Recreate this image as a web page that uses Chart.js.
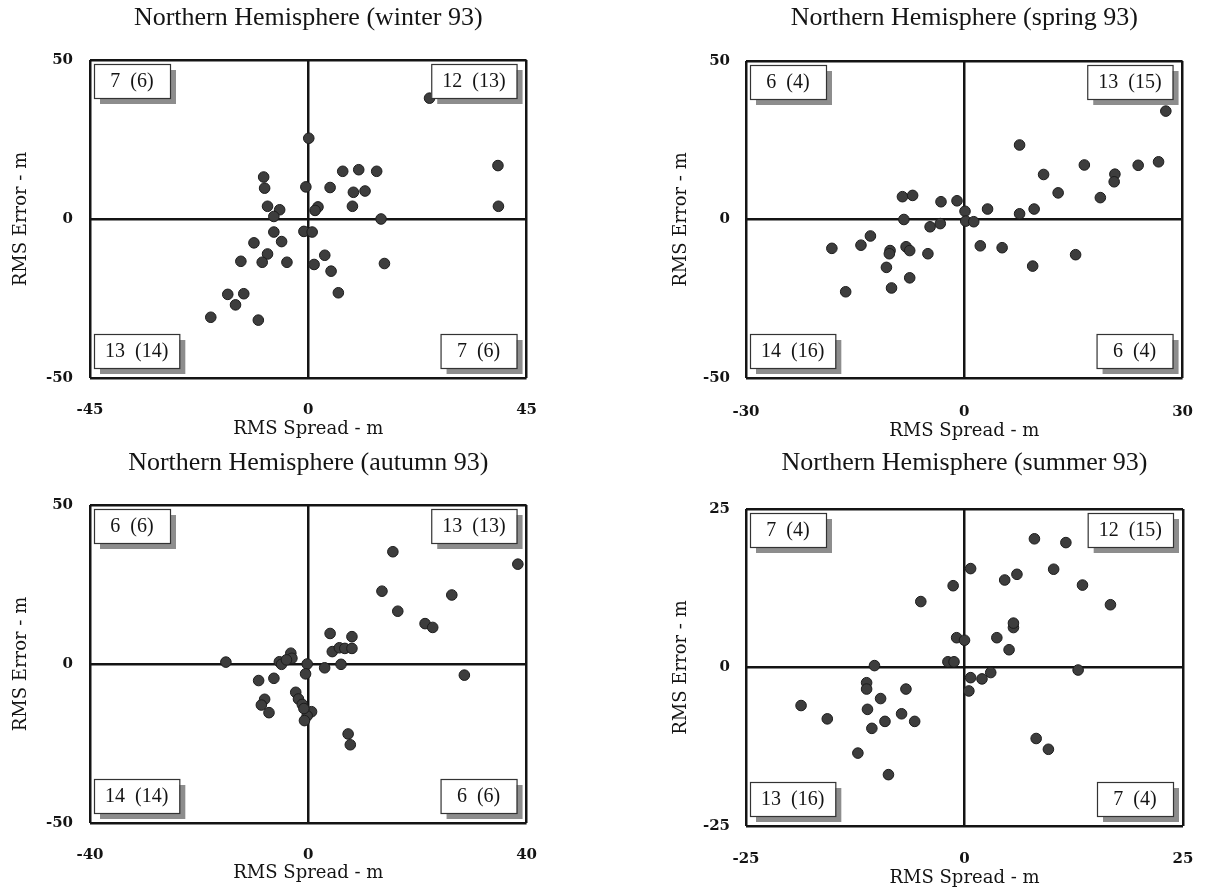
<!DOCTYPE html>
<html><head><meta charset="utf-8">
<script src="https://cdn.jsdelivr.net/npm/chart.js@4.4.0/dist/chart.umd.min.js"></script>
<style>
html,body{margin:0;padding:0;background:#fff;width:1218px;height:896px;overflow:hidden}
.p{position:absolute}
canvas{display:block}
</style></head><body>
<div class="p" style="left:0;top:0"><canvas id="c1" width="560" height="445"></canvas></div>
<div class="p" style="left:600px;top:0"><canvas id="c2" width="618" height="445"></canvas></div>
<div class="p" style="left:0;top:445px"><canvas id="c3" width="560" height="451"></canvas></div>
<div class="p" style="left:600px;top:445px"><canvas id="c4" width="618" height="451"></canvas></div>
<script>
// ---------- data ----------
const winterSpread = [25.0,0.1,39.1,39.2,-9.2,-9.0,-0.5,7.1,10.4,14.1,4.5,9.3,11.7,9.1,2.0,1.4,-8.4,-5.9,-7.1,15.0,-0.9,0.8,-7.1,-5.5,-11.2,-8.4,-9.5,-13.9,-4.4,3.4,1.2,4.7,15.7,6.2,-16.6,-13.3,-15.0,-20.1,-10.3];
const winterError  = [38.0,25.4,16.8,4.0,13.2,9.7,10.1,15.0,15.5,15.0,9.9,8.4,8.8,4.0,3.8,2.7,4.0,2.9,0.8,0.0,-3.9,-4.1,-4.1,-7.1,-7.5,-11.0,-13.6,-13.3,-13.6,-11.4,-14.3,-16.4,-14.0,-23.2,-23.7,-23.5,-27.0,-30.9,-31.8];
const winterXTicks = [-45,0,45];
const winterYTicks = [-50,0,50];
const winterCounts = ['7  (6)','12  (13)','13  (14)','7  (6)'];

const springSpread = [27.7,7.6,16.5,23.9,26.7,10.9,20.7,20.6,12.9,18.7,9.6,7.6,3.2,0.1,-1.0,-3.2,-8.5,-7.1,-8.3,0.2,1.3,-3.3,-4.7,2.2,5.2,9.4,15.3,-12.9,-14.2,-18.2,-10.2,-10.3,-8.0,-7.5,-5.0,-10.7,-7.5,-10.0,-16.3];
const springError  = [34.2,23.5,17.2,17.1,18.2,14.2,14.3,11.9,8.4,6.9,3.3,1.8,3.3,2.6,5.9,5.6,7.2,7.6,0.0,-0.5,-0.7,-1.3,-2.3,-8.3,-8.9,-14.7,-11.1,-5.2,-8.1,-9.1,-9.8,-10.8,-8.6,-9.8,-10.8,-15.1,-18.4,-21.6,-22.8];
const springXTicks = [-30,0,30];
const springYTicks = [-50,0,50];
const springCounts = ['6  (4)','13  (15)','14  (16)','6  (4)'];

const autumnSpread = [15.5,38.4,13.5,26.3,16.4,21.4,22.8,4.0,8.0,4.4,5.7,6.7,8.0,-3.2,-3.0,-5.3,-4.9,-15.1,-0.2,3.0,6.0,28.6,-0.5,-9.1,-6.3,-8.0,-8.6,-7.2,-2.3,-1.8,-1.1,0.6,-0.2,-0.7,7.3,7.7,-4.0,-0.8];
const autumnError  = [35.3,31.4,22.9,21.7,16.6,12.7,11.5,9.6,8.6,3.9,5.1,4.9,4.9,3.4,1.8,0.7,-0.1,0.6,0.0,-1.2,-0.1,-3.5,-3.1,-5.2,-4.5,-11.1,-12.9,-15.3,-8.9,-11.0,-12.7,-15.0,-16.3,-17.8,-22.0,-25.4,1.3,-14.0];
const autumnXTicks = [-40,0,40];
const autumnYTicks = [-50,0,50];
const autumnCounts = ['6  (6)','13  (13)','14  (14)','6  (6)'];

const summerSpread = [8.0,11.6,0.7,10.2,4.6,6.0,13.5,16.7,-1.3,-5.0,5.6,3.7,5.1,-0.9,0.0,-1.9,-1.2,-10.3,13.0,3.0,2.0,0.7,0.5,-11.2,-11.2,-6.7,-9.6,-18.7,-11.1,-7.2,-5.7,-9.1,-15.7,-10.6,-12.2,-8.7,8.2,9.6,5.6];
const summerError  = [20.3,19.7,15.6,15.5,13.8,14.7,13.0,9.9,12.9,10.4,6.3,4.7,2.8,4.7,4.3,0.9,0.9,0.3,-0.4,-0.8,-1.8,-1.6,-3.7,-2.4,-3.4,-3.4,-4.9,-6.0,-6.6,-7.3,-8.5,-8.5,-8.1,-9.6,-13.5,-16.9,-11.2,-12.9,7.0];
const summerXTicks = [-25,0,25];
const summerYTicks = [-25,0,25];
const summerCounts = ['7  (4)','12  (15)','13  (16)','7  (4)'];

// ---------- styling ----------
const INK = '#141414';
const TITLE_FONT = {family:'"Liberation Serif", serif', size:26, weight:'normal'};
const AXIS_FONT = {family:'"DejaVu Serif", serif', size:18, weight:'normal'};
const TICK_FONT = {family:'"DejaVu Serif", serif', size:15, weight:'bold'};

const quadBoxes = {
  id:'quadBoxes',
  afterDatasetsDraw(chart, args, opts){
    const ctx = chart.ctx, a = chart.chartArea;
    const labels = opts.labels || [];
    ctx.save();
    ctx.font = '20px "Liberation Serif", serif';
    const h = 34, sh = 6, m = 4;
    labels.forEach((t,i)=>{
      const w = Math.max(76, ctx.measureText(t).width + 22);
      const left = (i % 2 === 0) ? a.left + m : a.right - m - sh - w;
      const top = (i < 2) ? a.top + m : a.bottom - m - sh - h;
      ctx.fillStyle = '#8d8d8d';
      ctx.fillRect(left + sh, top + sh, w, h);
      ctx.fillStyle = '#ffffff';
      ctx.fillRect(left, top, w, h);
      ctx.strokeStyle = '#333';
      ctx.lineWidth = 1.2;
      ctx.strokeRect(left + 0.5, top + 0.5, w, h);
      ctx.fillStyle = INK;
      ctx.textAlign = 'center';
      ctx.textBaseline = 'middle';
      ctx.fillText(t, left + w/2, top + h/2 + 1);
    });
    ctx.restore();
  }
};

function makePanel(id, P){
  const W = P.W, H = P.H;
  const lhT = TITLE_FONT.size * 1.2, lhA = AXIS_FONT.size * 1.2;
  const titleTop = P.titleCY - lhT/2;
  new Chart(document.getElementById(id), {
    type:'scatter',
    data:{datasets:[{
      data: P.xs.map((x,i)=>({x:x, y:P.ys[i]})),
      pointRadius:5.3, pointHoverRadius:5.3,
      pointBackgroundColor:'#3d3d3d', pointBorderColor:'#1c1c1c', pointBorderWidth:1
    }]},
    options:{
      responsive:false, animation:false, devicePixelRatio:1,
      layout:{padding:{left:0, top:0, bottom:0, right: W - P.R}},
      plugins:{
        legend:{display:false}, tooltip:{enabled:false},
        title:{display:true, text:P.title, fullSize:false, color:INK, font:TITLE_FONT,
               padding:{top:titleTop, bottom:P.T - titleTop - lhT}},
        quadBoxes:{labels:P.counts}
      },
      scales:{
        x:{type:'linear', min:P.xt[0], max:P.xt[P.xt.length-1],
           afterBuildTicks:s=>{ s.ticks = P.xt.map(v=>({value:v})); },
           afterFit:s=>{ s.height = H - P.B; },
           grid:{color:INK, lineWidth:2.5, drawTicks:false},
           border:{display:false},
           ticks:{padding:P.xTickTop - P.B, font:TICK_FONT, color:INK, autoSkip:false, maxRotation:0, callback:v=>String(v)},
           title:{display:true, text:'RMS Spread - m', color:INK, font:AXIS_FONT,
                  padding:{top:0, bottom:H - P.xTitleCY - lhA/2}}
        },
        y:{type:'linear', min:P.yt[0], max:P.yt[P.yt.length-1],
           afterBuildTicks:s=>{ s.ticks = P.yt.map(v=>({value:v})); },
           afterFit:s=>{ s.width = P.L; },
           grid:{color:INK, lineWidth:2.5, drawTicks:false},
           border:{display:false},
           ticks:{padding:P.L - P.yTickRight, font:TICK_FONT, color:INK, autoSkip:false, callback:v=>String(v)},
           title:{display:true, text:'RMS Error - m', color:INK, font:AXIS_FONT,
                  padding:{top:P.yTitleCX - lhA/2, bottom:0}}
        }
      }
    },
    plugins:[quadBoxes]
  });
}

makePanel('c1', {W:560, H:445, L:90, T:60, R:527, B:378, titleCY:18, yTitleCX:21, yTickRight:73, xTickTop:401, xTitleCY:429,
  title:'Northern Hemisphere (winter 93)', xs:winterSpread, ys:winterError, xt:winterXTicks, yt:winterYTicks, counts:winterCounts});
makePanel('c2', {W:618, H:445, L:146, T:61, R:583, B:378, titleCY:18, yTitleCX:81, yTickRight:130, xTickTop:403, xTitleCY:431,
  title:'Northern Hemisphere (spring 93)', xs:springSpread, ys:springError, xt:springXTicks, yt:springYTicks, counts:springCounts});
makePanel('c3', {W:560, H:451, L:90, T:60, R:527, B:378, titleCY:18, yTitleCX:21, yTickRight:73, xTickTop:401, xTitleCY:428,
  title:'Northern Hemisphere (autumn 93)', xs:autumnSpread, ys:autumnError, xt:autumnXTicks, yt:autumnYTicks, counts:autumnCounts});
makePanel('c4', {W:618, H:451, L:146, T:64, R:583, B:381, titleCY:18, yTitleCX:81, yTickRight:130, xTickTop:405, xTitleCY:433,
  title:'Northern Hemisphere (summer 93)', xs:summerSpread, ys:summerError, xt:summerXTicks, yt:summerYTicks, counts:summerCounts});
</script>
</body></html>
